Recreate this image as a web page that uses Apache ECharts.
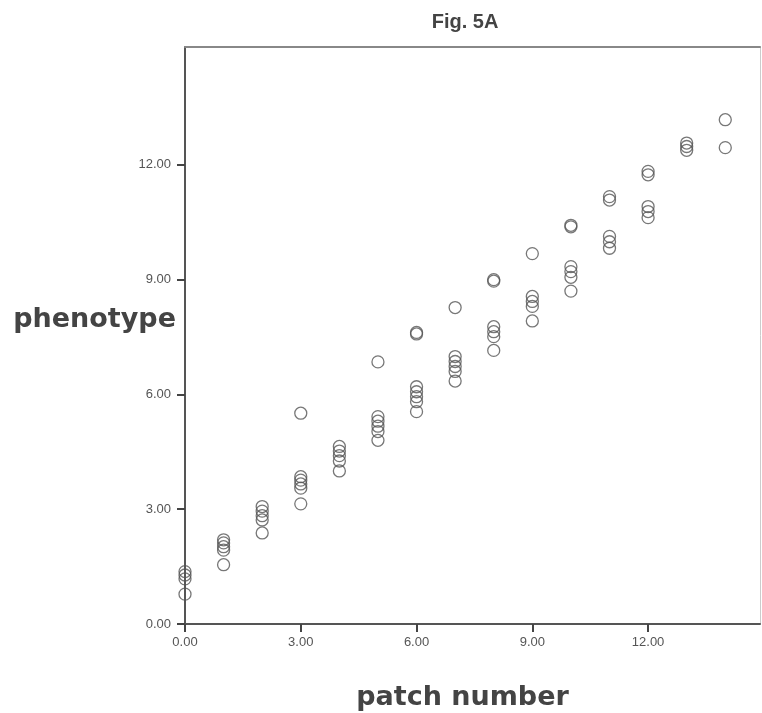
<!DOCTYPE html>
<html>
<head>
<meta charset="utf-8">
<script src="https://cdn.jsdelivr.net/npm/echarts@6/dist/echarts.min.js"></script>
<style>html,body{margin:0;padding:0;background:#fff;}#c{width:762px;height:713px;}</style>
</head>
<body>
<div id="c"></div>
<script>
const titleText = "Fig. 5A";
const xName = "patch number";
const yName = "phenotype";
const tickValues = [0, 3, 6, 9, 12];
// one entry per observed point: patch number and phenotype
const patchNumber = [
  0,0,0,0,
  1,1,1,1,1,
  2,2,2,2,2,
  3,3,3,3,3,3,
  4,4,4,4,4,
  5,5,5,5,5,5,
  6,6,6,6,6,6,6,
  7,7,7,7,7,7,
  8,8,8,8,8,8,
  9,9,9,9,9,
  10,10,10,10,10,10,
  11,11,11,11,11,
  12,12,12,12,12,
  13,13,13,
  14,14
];
const phenotype = [
  1.37,1.28,1.18,0.78,
  2.20,2.12,2.02,1.93,1.55,
  3.07,2.95,2.83,2.72,2.38,
  5.51,3.85,3.76,3.66,3.55,3.14,
  4.64,4.52,4.40,4.26,4.00,
  6.85,5.42,5.30,5.17,5.03,4.80,
  7.62,7.58,6.20,6.07,5.94,5.81,5.55,
  8.27,6.99,6.86,6.73,6.60,6.35,
  9.00,8.96,7.77,7.64,7.51,7.15,
  9.68,8.56,8.43,8.30,7.92,
  10.42,10.38,9.34,9.21,9.06,8.70,
  11.17,11.08,10.13,9.99,9.82,
  11.83,11.74,10.91,10.78,10.62,
  12.57,12.48,12.38,
  13.18,12.45
];

const points = patchNumber.map((x, i) => [x, phenotype[i]]);
const chart = echarts.init(document.getElementById('c'));
const labelStyle = {color: '#555', fontSize: 13, fontFamily: 'Liberation Sans'};
chart.setOption({
  animation: false,
  backgroundColor: '#fff',
  title: {
    text: titleText, left: 460, top: 7, textAlign: 'center',
    textStyle: {fontFamily: 'Liberation Sans', fontWeight: 'bold', fontSize: 20, color: '#444'}
  },
  graphic: [{
    type: 'text', right: 762 - 176, top: 306,
    style: {text: yName, fontFamily: 'DejaVu Sans', fontWeight: 'bold', fontSize: 27, fill: '#444'}
  }],
  grid: {left: 185, top: 47, right: 2, bottom: 89, show: false, containLabel: false, outerBoundsMode: 'none'},
  xAxis: [{
    type: 'value', min: 0, max: 14.9, interval: 3,
    name: xName, nameLocation: 'middle', nameGap: 60,
    nameTextStyle: {fontFamily: 'DejaVu Sans', fontWeight: 'bold', fontSize: 27, color: '#444', padding: [0, 0, 0, -20]},
    axisLine: {show: true, onZero: false, lineStyle: {color: '#555', width: 2}},
    axisTick: {show: true, length: 8, inside: false, customValues: tickValues, lineStyle: {color: '#444', width: 2}},
    axisLabel: Object.assign({margin: 12, customValues: tickValues, formatter: v => v.toFixed(2)}, labelStyle),
    splitLine: {show: false}
  }, {
    type: 'value', position: 'top', min: 0, max: 14.9,
    axisLine: {show: true, onZero: false, lineStyle: {color: '#888', width: 2}},
    axisTick: {show: false}, axisLabel: {show: false}, splitLine: {show: false}
  }],
  yAxis: [{
    type: 'value', min: 0, max: 15.08, interval: 3,
    axisLine: {show: true, onZero: false, lineStyle: {color: '#555', width: 2}},
    axisTick: {show: true, length: 8, inside: false, customValues: tickValues, lineStyle: {color: '#444', width: 2}},
    axisLabel: Object.assign({margin: 14, customValues: tickValues, formatter: v => v.toFixed(2)}, labelStyle),
    splitLine: {show: false}
  }, {
    type: 'value', position: 'right', min: 0, max: 15.08,
    axisLine: {show: true, onZero: false, lineStyle: {color: '#ccc', width: 1}},
    axisTick: {show: false}, axisLabel: {show: false}, splitLine: {show: false}
  }],
  series: [{
    type: 'scatter',
    data: points,
    symbol: 'circle',
    symbolSize: 12,
    itemStyle: {color: 'rgba(0,0,0,0)', borderColor: '#555', borderWidth: 1.3}
  }]
});
</script>
</body>
</html>
